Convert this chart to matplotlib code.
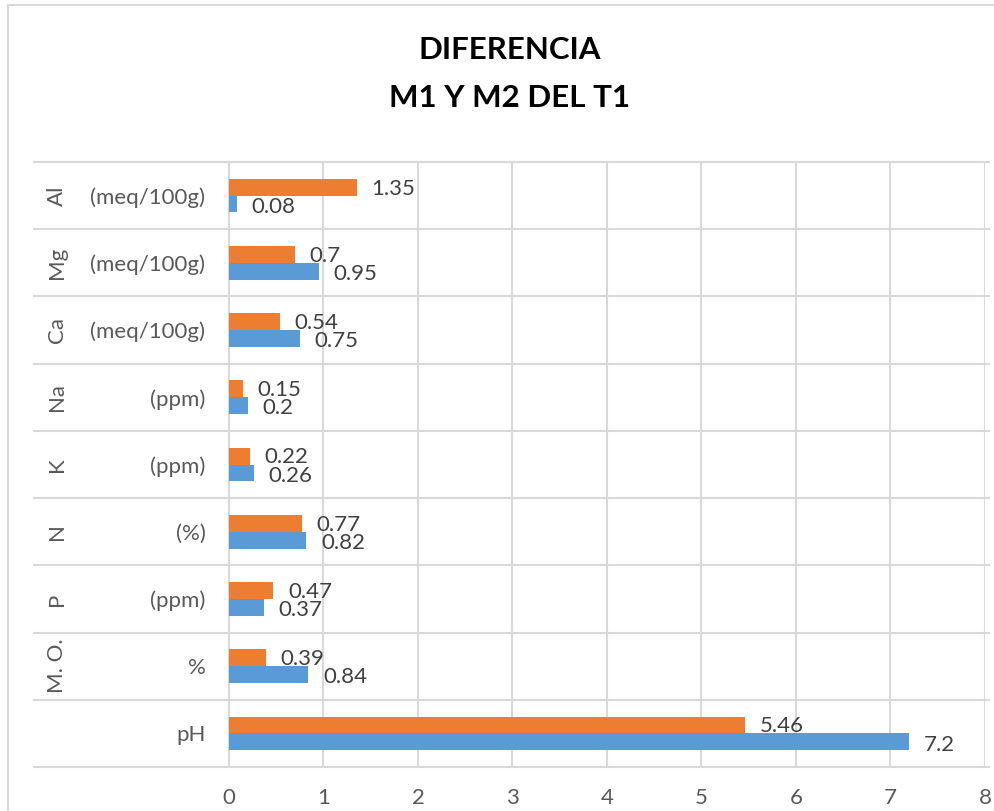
import matplotlib.pyplot as plt
from matplotlib.patches import Rectangle

# categories from bottom (pH) to top (Al)
elementos = ["", "M. O.", "P", "N", "K", "Na", "Ca", "Mg", "Al"]
unidades = ["pH", "%", "(ppm)", "(%)", "(ppm)", "(ppm)", "(meq/100g)", "(meq/100g)", "(meq/100g)"]
m1 = [7.2, 0.84, 0.37, 0.82, 0.26, 0.2, 0.75, 0.95, 0.08]
m2 = [5.46, 0.39, 0.47, 0.77, 0.22, 0.15, 0.54, 0.7, 1.35]

AZUL = "#5B9BD5"
NARANJA = "#ED7D31"
GRIS = "#D9D9D9"
TEXTO = "#595959"

plt.rcParams['font.family'] = ['Lato', 'DejaVu Sans']

W, H = 995, 811
fig = plt.figure(figsize=(W / 100, H / 100), dpi=100)

# chart border
fig.patches.append(Rectangle((8 / W, -0.1), 1.2, 1.1 - 5 / H, transform=fig.transFigure,
                             fill=False, edgecolor=GRIS, linewidth=1.5))

left, right, top, bottom = 229, 985, 162, 767
ax = fig.add_axes([left / W, 1 - bottom / H, (right - left) / W, (bottom - top) / H])

y = list(range(len(m1)))
h = 0.25
ax.barh([i - h / 2 for i in y], m1, height=h, color=AZUL, label="M1", zorder=3)
ax.barh([i + h / 2 for i in y], m2, height=h, color=NARANJA, label="M2", zorder=3)

for i in y:
    ax.annotate(f"{m2[i]:g}", (m2[i], i + h / 2), xytext=(10.5, -1), textcoords="offset points",
                ha="left", va="center", fontsize=16, color="#404040", zorder=4)
    ax.annotate(f"{m1[i]:g}", (m1[i], i - h / 2), xytext=(10.5, -2), textcoords="offset points",
                ha="left", va="center", fontsize=16, color="#404040", zorder=4)

ax.set_xlim(0, 8)
ax.set_ylim(-0.5, len(y) - 0.5)
ax.set_xticks(range(9))
ax.grid(axis="x", color=GRIS, linewidth=1.5, zorder=0)
for s in ["top", "right", "bottom"]:
    ax.spines[s].set_visible(False)
ax.spines["left"].set_color(GRIS)
ax.spines["left"].set_linewidth(1.5)
ax.tick_params(axis="x", length=0, labelsize=16, labelcolor=TEXTO, pad=15)
ax.tick_params(axis="y", length=0, labelsize=16, labelcolor=TEXTO, pad=17)
ax.set_yticks(y)
ax.set_yticklabels(unidades)

# category separators that run into the label area
trans = ax.get_yaxis_transform()
x0 = (34 - left) / (right - left)
for k in range(len(y) + 1):
    ax.plot([x0, 1.005], [k - 0.5, k - 0.5], transform=trans, color=GRIS,
            linewidth=1.5, clip_on=False, zorder=1)

for i, e in enumerate(elementos):
    if e:
        ax.text(57 / W, ax.transData.transform((0, i))[1] / fig.dpi / fig.get_figheight(),
                e, transform=fig.transFigure, rotation=90, ha="center", va="center",
                fontsize=16, color=TEXTO)

fig.text(510 / W, 1 - 50 / H, "DIFERENCIA", ha="center", va="center",
         fontsize=22.5, fontweight="bold", color="black")
fig.text(510 / W, 1 - 98 / H, "M1 Y M2 DEL T1", ha="center", va="center",
         fontsize=22.5, fontweight="bold", color="black")

fig.savefig("out.png", dpi=100)
